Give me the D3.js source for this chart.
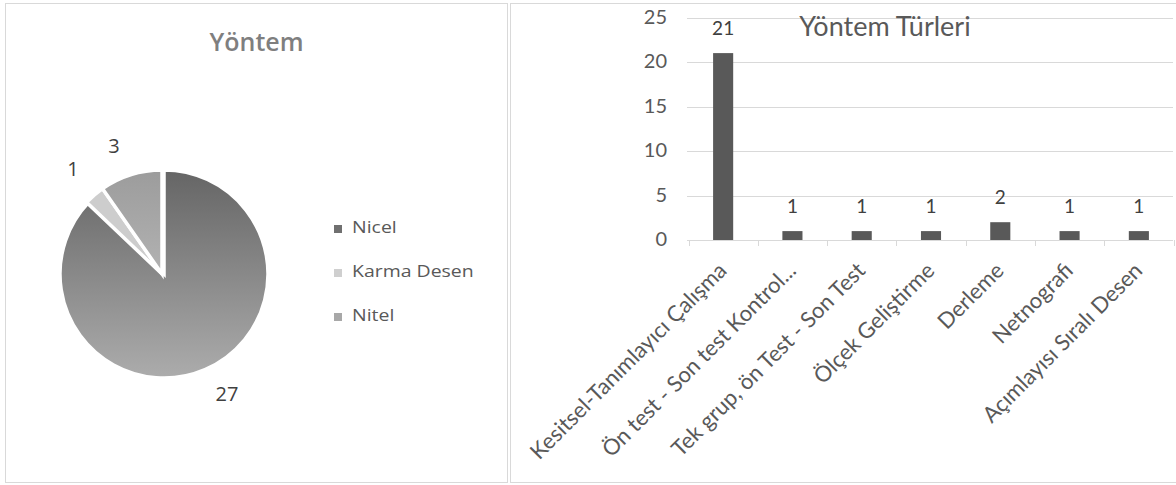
<!DOCTYPE html>
<html><head><meta charset="utf-8">
<script src="https://cdn.jsdelivr.net/npm/d3@7"></script>
<style>body{margin:0;background:#fff}svg{display:block}</style>
</head><body>
<svg id="c" width="1176" height="485"></svg>
<script>
const pieCategories = ["Nicel", "Karma Desen", "Nitel"];
const pieValues = [27, 1, 3];
const pieColors = ["#707070", "#cfcfcf", "#a8a8a8"];
const barCategories = ["Kesitsel-Tanımlayıcı Çalışma", "Ön test - Son test Kontrol...", "Tek grup, ön Test - Son Test", "Ölçek Geliştirme", "Derleme", "Netnografi", "Açımlayısı Sıralı Desen"];
const barValues = [21, 1, 1, 1, 2, 1, 1];
const yTicks = [0, 5, 10, 15, 20, 25];

const svg = d3.select("#c");
const defs = svg.append("defs");
const cx = 163, cy = 274, r = 104;
const g1 = defs.append("linearGradient").attr("id","gNicel").attr("gradientUnits","userSpaceOnUse")
  .attr("x1",0).attr("y1",-r).attr("x2",0).attr("y2",r);
g1.append("stop").attr("offset",0).attr("stop-color","#656565");
g1.append("stop").attr("offset",1).attr("stop-color","#acacac");
const g2 = defs.append("linearGradient").attr("id","gNitel").attr("gradientUnits","userSpaceOnUse")
  .attr("x1",0).attr("y1",-r).attr("x2",0).attr("y2",0);
g2.append("stop").attr("offset",0).attr("stop-color","#9c9c9c");
g2.append("stop").attr("offset",1).attr("stop-color","#b2b2b2");
const fills = ["url(#gNicel)", "#cdcdcd", "url(#gNitel)"];

// panels
svg.append("rect").attr("x",5.5).attr("y",3.5).attr("width",502).attr("height",479).attr("fill","none").attr("stroke","#d9d9d9");
svg.append("rect").attr("x",510.5).attr("y",3.5).attr("width",670).attr("height",479).attr("fill","none").attr("stroke","#d9d9d9");

// stretched text helper
function stext(parent, x, y, sx, txt, attrs) {
  const t = parent.append("g").attr("transform",`translate(${x},${y}) scale(${sx},1)`).append("text").text(txt);
  Object.entries(attrs).forEach(([k,v])=>t.attr(k,v));
  return t;
}

// ---- Pie ----
const font1 = "'Open Sans', 'Noto Sans', sans-serif";
stext(svg, 256.5, 51, 1.0, "Yöntem", {"text-anchor":"middle","font-family":font1,"font-size":25,"font-weight":600,"fill":"#7f7f7f"});
const pie = d3.pie().sort(null)(pieValues);
const arc = d3.arc().innerRadius(0).outerRadius(r);
const pg = svg.append("g").attr("transform",`translate(${cx},${cy})`);
pg.selectAll("path").data(pie).join("path")
  .attr("d",arc)
  .attr("transform",(d,i)=> i===0 ? "translate(1,0)" : "translate(-1,0)")
  .attr("fill",(d,i)=>fills[i]).attr("stroke","#fff").attr("stroke-width",3.5).attr("stroke-linejoin","miter");
const labelPos = [[227,396],[73,171],[114,148]];
pie.forEach((d,i)=>{
  stext(svg, labelPos[i][0], labelPos[i][1], 1.0, d.data, {"text-anchor":"middle","dominant-baseline":"middle","font-family":font1,"font-size":20,"fill":"#404040"});
});
pieCategories.forEach((c,i)=>{
  const y = 229 + i*44;
  svg.append("rect").attr("x",334).attr("y",y-4).attr("width",8).attr("height",8).attr("fill",pieColors[i]);
  stext(svg, 352, y, 1.18, c, {"dominant-baseline":"middle","font-family":font1,"font-size":16.5,"fill":"#595959"});
});

// ---- Bar ----
const font2 = "Lato, 'Open Sans', sans-serif";
const x = d3.scaleBand().domain(barCategories).range([688.5, 1173.5]).paddingInner(0.71).paddingOuter(0.355);
const y = d3.scaleLinear().domain([0,25]).range([240,17.5]);
const bg = svg.append("g");
bg.selectAll("line.grid").data(yTicks.slice(1)).join("line").attr("class","grid")
  .attr("x1",687).attr("x2",1173).attr("y1",d=>Math.round(y(d))+0.5).attr("y2",d=>Math.round(y(d))+0.5)
  .attr("stroke","#d9d9d9");
bg.append("line").attr("x1",687).attr("x2",1173).attr("y1",240.5).attr("y2",240.5).attr("stroke","#d9d9d9");
const band = (1173.5-688.5)/barCategories.length;
d3.range(barCategories.length+1).forEach(i=>{
  const xx = Math.round(688.5 + i*band)+0.5;
  bg.append("line").attr("x1",xx).attr("x2",xx).attr("y1",240).attr("y2",246).attr("stroke","#d9d9d9");
});
bg.selectAll("text.yt").data(yTicks).join("text").attr("class","yt")
  .attr("x",667).attr("y",d=>y(d)+1).attr("text-anchor","end").attr("dominant-baseline","middle")
  .attr("font-family",font2).attr("font-size",20).attr("fill","#595959").text(d=>d);
bg.selectAll("rect.bar").data(barValues).join("rect").attr("class","bar")
  .attr("x",(d,i)=>x(barCategories[i])).attr("width",x.bandwidth())
  .attr("y",d=>y(d)).attr("height",d=>240-y(d)).attr("fill","#595959");
bg.selectAll("text.dl").data(barValues).join("text").attr("class","dl")
  .attr("x",(d,i)=>x(barCategories[i])+x.bandwidth()/2).attr("y",d=>y(d)-23)
  .attr("text-anchor","middle").attr("dominant-baseline","middle")
  .attr("font-family",font2).attr("font-size",19).attr("fill","#404040").text(d=>d);
bg.selectAll("text.xl").data(barCategories).join("text").attr("class","xl")
  .attr("transform",d=>`translate(${x(d)+x.bandwidth()/2+1},${268}) rotate(-45)`)
  .attr("text-anchor","end").attr("dominant-baseline","middle")
  .attr("font-family",font2).attr("font-size",22).attr("fill","#595959").text(d=>d);
svg.append("text").attr("x",885).attr("y",36).attr("text-anchor","middle")
  .attr("font-family",font2).attr("font-size",27).attr("fill","#595959").text("Yöntem Türleri");
</script>
</body></html>
